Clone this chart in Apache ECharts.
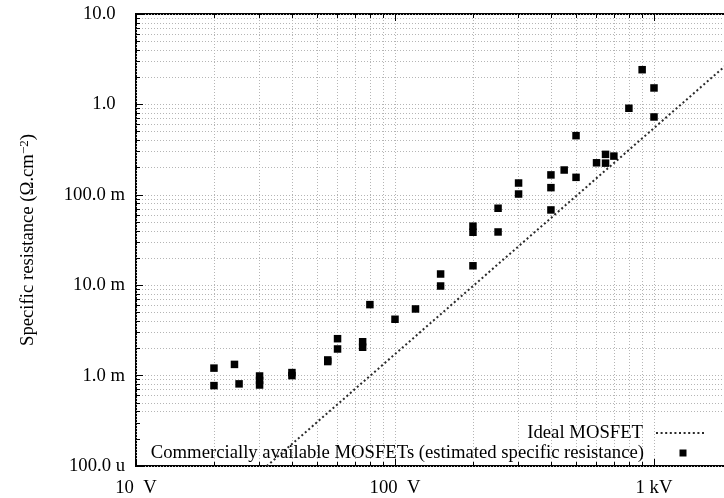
<!DOCTYPE html>
<html><head><meta charset="utf-8">
<script src="https://cdn.jsdelivr.net/npm/echarts@6/dist/echarts.min.js"></script>
<style>html,body{margin:0;padding:0;background:#fff}#c{width:724px;height:498px}</style>
</head><body><div id="c"></div>
<script>
// ---- data ----
const xMajorTicks = [10, 100, 1000, 10000];
const xTickLabels = ['10  V', '100  V', '1 kV', '10 kV'];
const yMajorTicks = [1e-4, 1e-3, 1e-2, 1e-1, 1, 10];
const yTickLabels = ['100.0 u', '1.0 m', '10.0 m', '100.0 m', '1.0  ', '10.0  '];
const minorSteps = [2, 3, 4, 5, 6, 7, 8, 9];
const yGridHidden = [2e-4, 3e-4]; // covered by the key

const mosfetVoltage = [20, 20, 24, 25, 30, 30, 30, 40, 40, 55, 55, 60, 60, 75, 75, 80, 100, 120, 150, 150,
  200, 200, 200, 250, 250, 300, 300, 400, 400, 400, 450, 500, 500, 600, 650, 650, 700, 800, 900, 1000, 1000];
const mosfetResistance = [1.21e-3, 0.775e-3, 1.33e-3, 0.81e-3, 0.99e-3, 0.883e-3, 0.787e-3, 1.08e-3, 1.0e-3, 1.49e-3, 1.43e-3,
  2.56e-3, 1.97e-3, 2.37e-3, 2.06e-3, 6.1e-3, 4.2e-3, 5.46e-3, 13.3e-3, 9.8e-3,
  45e-3, 38.5e-3, 16.4e-3, 71e-3, 38.8e-3, 135e-3, 102e-3, 166e-3, 120e-3, 68e-3, 188e-3, 451e-3, 156e-3, 226e-3,
  280e-3, 224e-3, 268e-3, 0.906, 2.42, 1.52, 0.726];

const idealVoltage = [32, 2000];
const idealResistance = [1e-4, 3.1];

const seriesNames = ['Ideal MOSFET', 'Commercially available MOSFETs (estimated specific resistance)'];

// ---- derived ----
function withMinors(majors) {
  const out = [];
  for (let i = 0; i < majors.length; i++) {
    out.push(majors[i]);
    if (i < majors.length - 1) minorSteps.forEach(s => out.push(+(majors[i] * s).toPrecision(6)));
  }
  return out;
}
const xAllTicks = withMinors(xMajorTicks);
const yAllTicks = withMinors(yMajorTicks);
const yGridTicks = yAllTicks.filter(v => yGridHidden.indexOf(v) < 0);

function labelFor(v, vals, labels) {
  for (let i = 0; i < vals.length; i++) {
    if (Math.abs(Math.log10(v) - Math.log10(vals[i])) < 1e-6) return labels[i];
  }
  return '';
}

const FONT = 'Liberation Serif';
const FS = 18.7;
const tickStyle = { color: '#000', width: 1 };
const gridLine = { color: '#b5b5b5', width: 1, type: [1, 2] };

function xAx(pos, ticks, len, extra) {
  return Object.assign({
    type: 'log', logBase: 10, min: 10, max: 10000, position: pos,
    axisLine: { show: false, onZero: false },
    axisTick: { show: true, inside: true, length: len, customValues: ticks, lineStyle: tickStyle },
    axisLabel: { show: false },
    splitLine: { show: false }
  }, extra || {});
}
function yAx(ticks, len, extra) {
  return Object.assign({
    type: 'log', logBase: 10, min: 1e-4, max: 10, position: 'left',
    axisLine: { show: false, onZero: false },
    axisTick: { show: len > 0, inside: true, length: Math.max(len, 1), customValues: ticks, lineStyle: tickStyle },
    axisLabel: { show: false },
    splitLine: { show: false }
  }, extra || {});
}

const chart = echarts.init(document.getElementById('c'), null, { renderer: 'canvas' });
chart.setOption({
  animation: false,
  backgroundColor: '#fff',
  textStyle: { fontFamily: FONT },
  grid: { left: 136, top: 14, width: 777, height: 452, show: true, borderColor: '#000', borderWidth: 2, backgroundColor: 'transparent', containLabel: false, outerBoundsMode: 'none' },
  xAxis: [
    xAx('bottom', xAllTicks, 4, {
      splitLine: { show: true, lineStyle: gridLine },
      axisLabel: {
        show: true, customValues: xMajorTicks, margin: 13, color: '#000', fontFamily: FONT, fontSize: FS,
        formatter: v => labelFor(v, xMajorTicks, xTickLabels)
      }
    }),
    xAx('top', xAllTicks, 4),
    xAx('bottom', xMajorTicks, 7),
    xAx('top', xMajorTicks, 7)
  ],
  yAxis: [
    yAx(yAllTicks, 4, {
      axisLabel: {
        show: true, customValues: yMajorTicks, margin: 11, color: '#000', fontFamily: FONT, fontSize: FS,
        formatter: v => labelFor(v, yMajorTicks, yTickLabels)
      },
      name: '{a|Specific resistance (Ω.cm}{s|−2}{a|)}',
      nameLocation: 'middle', nameGap: 98, nameRotate: 90,
      nameTextStyle: {
        color: '#000', fontFamily: FONT, fontSize: FS,
        rich: {
          a: { fontFamily: FONT, fontSize: FS, color: '#000', lineHeight: 20, verticalAlign: 'bottom' },
          s: { fontFamily: FONT, fontSize: 13, color: '#000', lineHeight: 13, verticalAlign: 'top', padding: [0, 0, 15, 0] }
        }
      }
    }),
    yAx(yMajorTicks, 7),
    yAx(yGridTicks, 0, { splitLine: { show: true, lineStyle: gridLine } })
  ],
  legend: [
    {
      data: [{ name: seriesNames[0], itemStyle: { color: 'transparent', borderColor: 'transparent', borderWidth: 0 } }],
      right: 17, top: 423.5, padding: 0, align: 'right', orient: 'vertical',
      itemWidth: 50, itemHeight: 12, selectedMode: false,
      textStyle: { fontFamily: FONT, fontSize: FS, color: '#000', padding: [0, 8, 0, 0] }
    },
    {
      data: [seriesNames[1]], right: 37.5, top: 443.5, padding: 0, align: 'right', orient: 'vertical',
      itemWidth: 7, itemHeight: 7, selectedMode: false,
      textStyle: { fontFamily: FONT, fontSize: FS, color: '#000', padding: [0, 30.5, 0, 0] }
    }
  ],
  series: [
    {
      name: seriesNames[0], type: 'line', xAxisIndex: 0, yAxisIndex: 0,
      data: idealVoltage.map((v, i) => [v, idealResistance[i]]),
      symbol: 'none', showSymbol: false, silent: true, z: 3,
      itemStyle: { color: '#2a2a2a' },
      lineStyle: { color: '#2a2a2a', width: 2, type: [2, 2.6] }
    },
    {
      name: seriesNames[1], type: 'scatter', xAxisIndex: 0, yAxisIndex: 0,
      data: mosfetVoltage.map((v, i) => [v, mosfetResistance[i]]),
      symbol: 'rect', symbolSize: 7.5, silent: true, z: 4,
      itemStyle: { color: '#000', opacity: 1 }
    }
  ]
});
</script></body></html>
